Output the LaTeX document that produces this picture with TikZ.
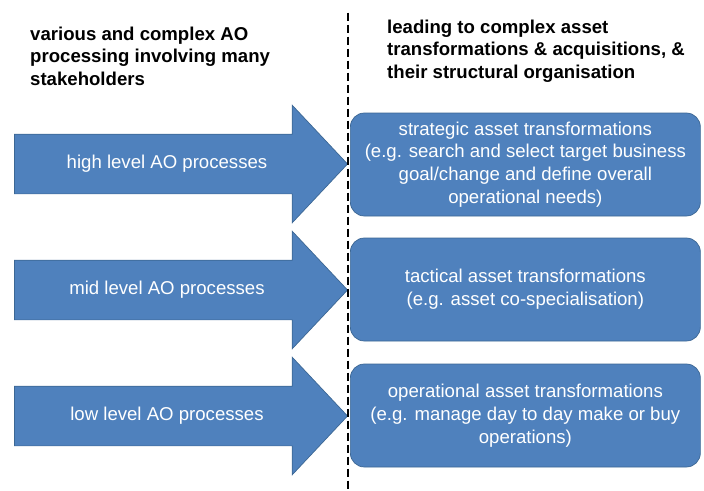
\documentclass[tikz,border=0pt]{standalone}
\usepackage{fontspec}
\setmainfont{Liberation Sans}
\usetikzlibrary{shapes.arrows}

\definecolor{aoblue}{HTML}{4F81BD}
\definecolor{aoedge}{HTML}{3C6794}

\tikzset{
  heading/.style = {align = left, inner sep = 0pt, anchor = base west,
                    font = \bfseries\fontsize{18.6}{22.5}\selectfont},
  process/.style = {single arrow, fill = aoblue, draw = aoedge, line width = .7pt,
                    text = white, font = \fontsize{18.6}{22.5}\selectfont,
                    minimum height = 333pt, inner xsep = 0pt, inner ysep = 21pt,
                    text height = 13pt, text depth = 4pt,
                    single arrow head extend = 29pt,
                    single arrow tip angle = 93.5, anchor = tip},
  outcome/.style = {rectangle, rounded corners = 14pt, fill = aoblue,
                    draw = aoedge, line width = .7pt, text = white,
                    align = center, font = \fontsize{18.6}{22.8}\selectfont,
                    minimum width = 350pt, minimum height = 103pt,
                    anchor = west}
}

\begin{document}
\begin{tikzpicture}[x = 1pt, y = -1pt]
  \useasboundingbox (0,0) rectangle (704,490);

  % column headings (base = last line)
  \node [heading] (ao side) at (30,85)
    {various and complex AO\\processing involving many\\stakeholders};
  \node [heading] (asset side) at (387,78)
    {leading to complex asset\\transformations \& acquisitions, \&\\their structural organisation};

  % AO processes, one per level
  \node [process] (high) at (348,164) {high level AO processes};
  \node [process] (mid)  at (348,290) {mid level AO processes};
  \node [process] (low)  at (348,416) {low level AO processes};

  % resulting asset transformations
  \node [outcome] (strategic) at (350,164.5)
    {strategic asset transformations\\(e.g. search and select target business\\goal/change and define overall\\operational needs)};
  \node [outcome] (tactical) at (350,289.5)
    {tactical asset transformations\\(e.g. asset co-specialisation)};
  \node [outcome] (operational) at (350,415.5)
    {operational asset transformations\\(e.g. manage day to day make or buy\\operations)};

  % divider
  \coordinate (split top) at (348,12.5);
  \coordinate (split bottom) at (348,490);
  \draw [line width = 2.6pt, dash pattern = on 8pt off 4pt]
    (split top) -- (split bottom);
\end{tikzpicture}
\end{document}
